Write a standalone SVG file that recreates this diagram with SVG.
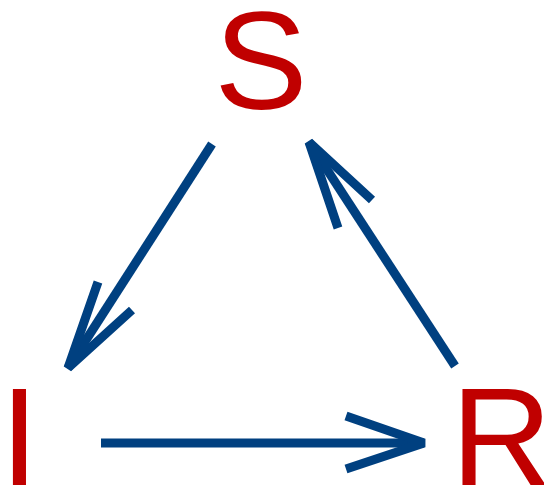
<svg xmlns="http://www.w3.org/2000/svg" width="544" height="487" viewBox="0 0 544 487">
<style>
.lbl{font-family:"Liberation Sans",Arial,sans-serif;font-size:140px;fill:#C00000}
.c{stroke:#004080;stroke-width:9;fill:none;stroke-linecap:butt;stroke-linejoin:bevel}
</style>
<rect width="544" height="487" fill="#fff"/>
<g id="S"><text class="lbl" x="261" y="109" text-anchor="middle">S</text></g>
<g id="I"><text class="lbl" x="0" y="485">I</text></g>
<g id="R"><text class="lbl" x="451" y="485">R</text></g>
<g id="connectors">
<path class="c" d="M212,144 L68,368"/>
<path class="c" d="M98,282 L68,368 L132,310"/>
<path class="c" d="M455,366 L309,142"/>
<path class="c" d="M338,228 L309,142 L372,200"/>
<path class="c" d="M101,443 L424,443"/>
<path class="c" d="M346,416 L424,443 L346,469"/>
</g>
</svg>
